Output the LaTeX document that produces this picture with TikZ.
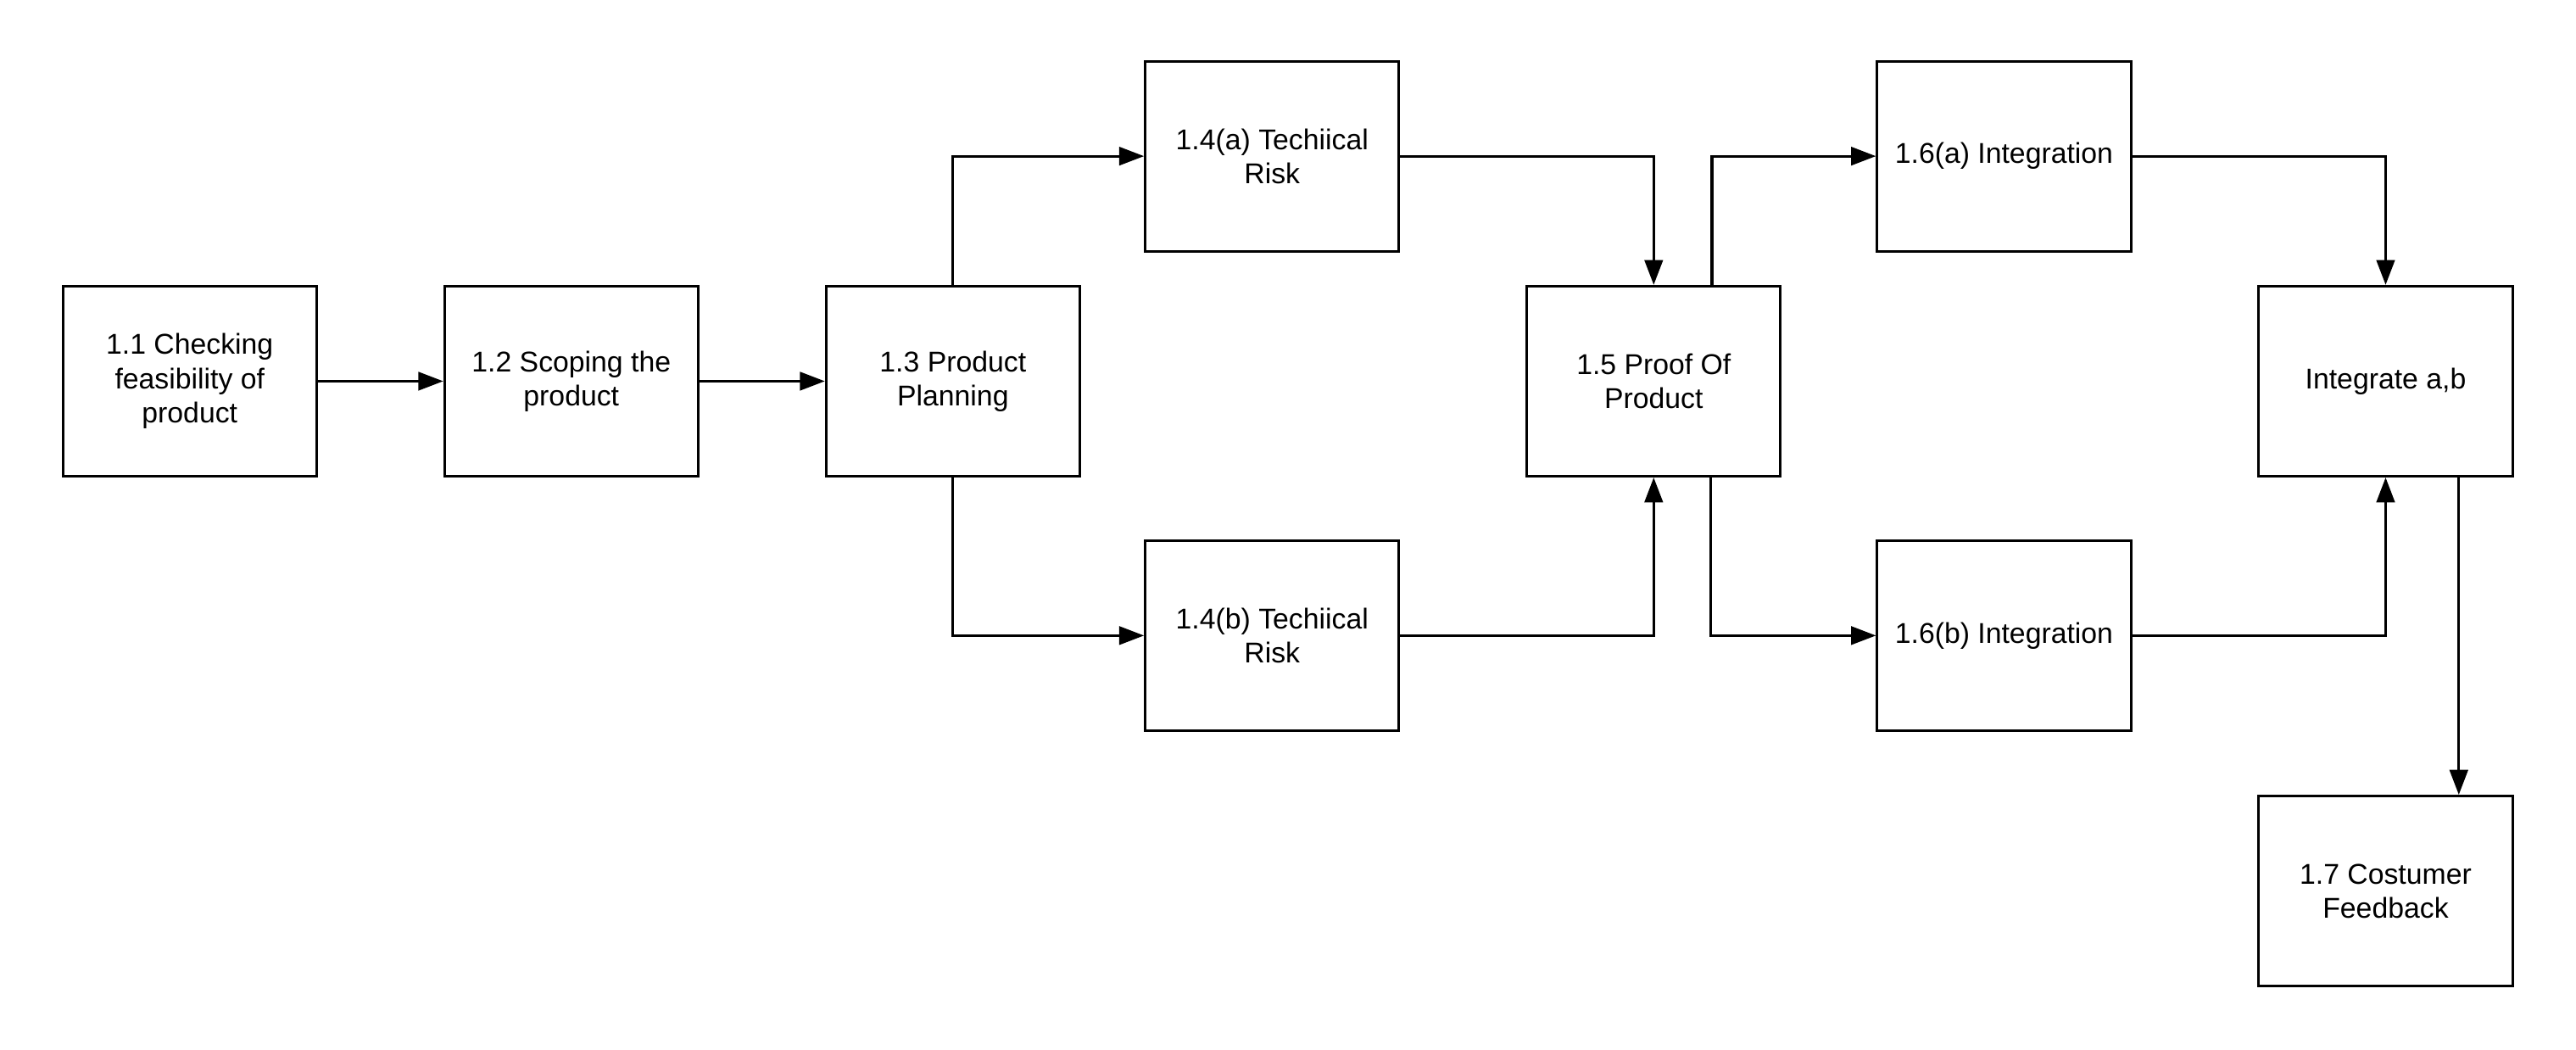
\documentclass[tikz,border=0pt]{standalone}
\usepackage{fontspec}
\setmainfont{Liberation Sans}
\usetikzlibrary{arrows.meta}
\begin{document}
\begin{tikzpicture}[x=1pt,y=-1pt,
  box/.style={draw=black,line width=1.55pt,minimum width=153.2pt,minimum height=114.8pt,
    inner sep=0pt,align=center,font=\fontsize{17.3}{20.6}\selectfont},
  conn/.style={draw=black,line width=1.6pt,-{Triangle[length=15pt,width=11pt]}}]
\useasboundingbox (0,0) rectangle (1556,634.08);
\node[box] (n11) at (114.6,230.2) {1.1 Checking\\feasibility of\\product};
\node[box] (n12) at (345.1,230.2) {1.2 Scoping the\\product};
\node[box] (n13) at (575.6,230.2) {1.3 Product\\Planning};
\node[box] (n14a) at (768.4,94.3) {1.4(a) Techiical\\Risk};
\node[box] (n14b) at (768.4,383.8) {1.4(b) Techiical\\Risk};
\node[box] (n15) at (998.9,230.2) {1.5 Proof Of\\Product};
\node[box] (n16a) at (1210.5,94.3) {1.6(a) Integration};
\node[box] (n16b) at (1210.5,383.8) {1.6(b) Integration};
\node[box] (nint) at (1441.0,230.2) {Integrate a,b};
\node[box] (n17) at (1441.0,538.1) {1.7 Costumer\\Feedback};
\draw[conn] (n11) -- (n12);
\draw[conn] (n12) -- (n13);
\draw[conn] (n13.north) |- (n14a.west);
\draw[conn] (n13.south) |- (n14b.west);
\draw[conn] (n14a.east) -| (n15.north);
\draw[conn] (n14b.east) -| (n15.south);
\draw[conn] ([xshift=35.2pt]n15.north) |- (n16a.west);
\draw[conn] ([xshift=34.4pt]n15.south) |- (n16b.west);
\draw[conn] (n16a.east) -| (nint.north);
\draw[conn] (n16b.east) -| (nint.south);
\draw[conn] ([xshift=44.2pt]nint.south) -- ([xshift=44.2pt]nint.south |- n17.north);
\end{tikzpicture}
\end{document}
